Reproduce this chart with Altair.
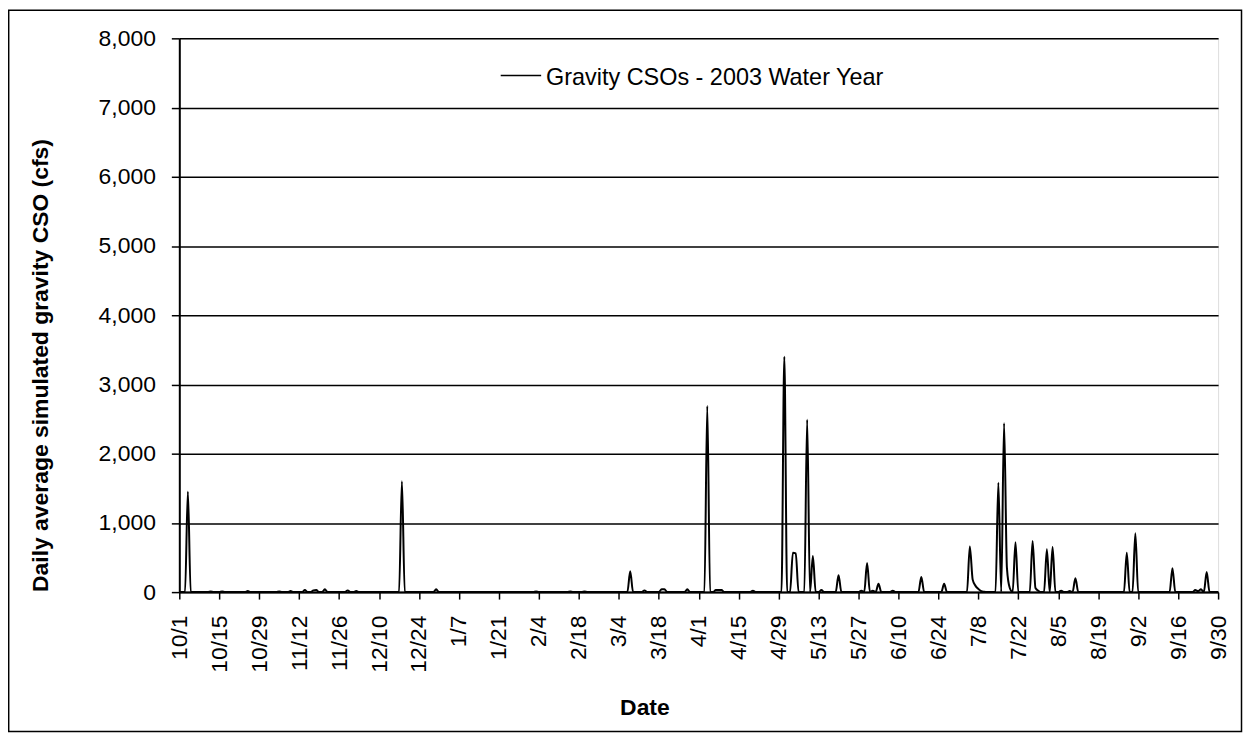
import altair as alt
import pandas as pd

# ---- data (day 0 = 10/1/2002, daily to 9/30/2003) ----
n_days = 365
event_days = [3, 11, 15, 24, 35, 39, 44, 47, 48, 51, 59, 62, 78, 90,
              125, 137, 142, 158, 163, 169, 170, 178, 185, 188, 189, 190, 201,
              212, 215, 216, 220, 222, 225, 231, 239, 241, 243, 245, 250, 260, 268,
              277, 278, 279, 280, 281, 282, 287, 289, 290, 291, 293, 299, 300, 301,
              304, 306, 309, 312, 314, 332, 335, 348, 356, 357, 358, 360]
event_values = [1450, 8, 10, 15, 10, 15, 30, 25, 30, 40, 25, 15, 1600, 40,
                10, 8, 10, 300, 25, 40, 40, 40, 2690, 30, 30, 30, 20,
                3400, 570, 560, 2490, 520, 30, 245, 20, 420, 20, 120, 20, 220, 120,
                660, 180, 90, 45, 15, 5, 1580, 2440, 350, 60, 720, 740, 60, 20,
                620, 650, 20, 15, 200, 570, 850, 345, 30, 15, 40, 290]

tick_days = [0, 14, 28, 42, 56, 70, 84, 98, 112, 126, 140, 154, 168, 182,
             196, 210, 224, 238, 252, 266, 280, 294, 308, 322, 336, 350, 364]
tick_labels = ["10/1", "10/15", "10/29", "11/12", "11/26", "12/10", "12/24", "1/7",
               "1/21", "2/4", "2/18", "3/4", "3/18", "4/1", "4/15", "4/29", "5/13",
               "5/27", "6/10", "6/24", "7/8", "7/22", "8/5", "8/19", "9/2", "9/16", "9/30"]
y_ticks = [0, 1000, 2000, 3000, 4000, 5000, 6000, 7000, 8000]
series_name = "Gravity CSOs - 2003 Water Year"

vals = {d: v for d, v in zip(event_days, event_values)}
df = pd.DataFrame({"day": list(range(n_days)),
                   "cso": [vals.get(d, 0) for d in range(n_days)]})

FONT = "Liberation Sans"
label_js = "[" + ",".join("'" + s + "'" for s in tick_labels) + "]"

line = alt.Chart(df).mark_line(color="black", strokeWidth=2, interpolate="monotone").encode(
    x=alt.X("day:Q",
            scale=alt.Scale(domain=[0, 364], nice=False, zero=False),
            axis=alt.Axis(values=tick_days, labelExpr=label_js + "[round(datum.value/14)]",
                          labelAngle=270, labelAlign="right", labelBaseline="middle",
                          labelFontSize=23, labelFont=FONT, labelColor="black",
                          labelPadding=16, tickSize=7, tickColor="black", tickWidth=1.5,
                          domainColor="black", domainWidth=2, grid=False,
                          labelOverlap=False,
                          title="Date", titleFont=FONT, titleFontSize=23,
                          titleFontWeight="bold", titleColor="black",
                          titleX=467, titleY=116, titleBaseline="middle",
                          titleAlign="center")),
    y=alt.Y("cso:Q",
            scale=alt.Scale(domain=[0, 8000], nice=False),
            axis=alt.Axis(values=y_ticks, format=",.0f", labelFontSize=23, labelFont=FONT,
                          labelColor="black", labelPadding=16, tickSize=8,
                          tickColor="black", tickWidth=1.5,
                          domainColor="black", domainWidth=2,
                          grid=True, gridColor="black", gridWidth=1.5, gridOpacity=1,
                          title="Daily average simulated gravity CSO (cfs)",
                          titleFont=FONT, titleFontSize=23, titleFontWeight="bold",
                          titleColor="black", titleX=-139, titleY=328,
                          titleAngle=270, titleAlign="center", titleBaseline="middle")),
)

leg_df = pd.DataFrame({"label": [series_name]})
leg_line = alt.Chart(leg_df).mark_rule(color="black", strokeWidth=1.5).encode(
    x=alt.value(322.7), x2=alt.value(363.3), y=alt.value(37.3))
leg_text = alt.Chart(leg_df).mark_text(align="left", baseline="middle", fontSize=23.5,
                                       font=FONT, color="black").encode(
    x=alt.value(368.3), y=alt.value(39.5), text="label:N")

frame = alt.Chart(leg_df).mark_rect(filled=False, stroke="black", strokeWidth=1.5).encode(
    x=alt.value(-171.3), x2=alt.value(1066.5), y=alt.value(-28.3), y2=alt.value(696))

chart = alt.layer(frame, line, leg_line, leg_text).properties(
    width=1043, height=556,
    autosize=alt.AutoSizeParams(type="none"),
    padding={"left": 172, "top": 29, "right": 25, "bottom": 142},
).configure_view(stroke=None).configure(background="white")

chart.save("out.html", embed_options={"renderer": "svg", "actions": False})
